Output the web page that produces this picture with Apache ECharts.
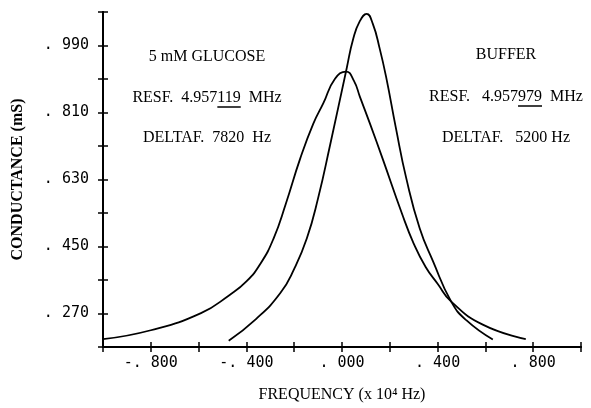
<!DOCTYPE html>
<html>
<head>
<meta charset="utf-8">
<script src="https://cdn.jsdelivr.net/npm/echarts@6/dist/echarts.min.js"></script>
<style>html,body{margin:0;padding:0;background:#fff;}#c{width:591px;height:408px;}</style>
</head>
<body>
<div id="c"></div>
<script>
// Data (frequency x 10^4 Hz, conductance mS)
const glucoseX = [-1.0, -0.8, -0.59, -0.47, -0.40, -0.34, -0.286, -0.235, -0.175, -0.12, -0.078, -0.03, 0.017, 0.05, 0.075, 0.117, 0.171, 0.25, 0.30, 0.35, 0.40, 0.457, 0.589, 0.769];
const glucoseY = [0.201, 0.225, 0.271, 0.320, 0.356, 0.405, 0.472, 0.565, 0.686, 0.780, 0.835, 0.900, 0.920, 0.895, 0.852, 0.780, 0.684, 0.540, 0.458, 0.395, 0.350, 0.302, 0.240, 0.201];
const bufferX = [-0.474, -0.36, -0.258, -0.20, -0.147, -0.10, -0.05, 0.019, 0.047, 0.075, 0.103, 0.129, 0.158, 0.186, 0.225, 0.269, 0.325, 0.381, 0.457, 0.52, 0.631];
const bufferY = [0.197, 0.255, 0.325, 0.390, 0.472, 0.580, 0.722, 0.927, 1.008, 1.056, 1.075, 1.048, 0.981, 0.901, 0.770, 0.633, 0.499, 0.410, 0.302, 0.252, 0.200];
const yLabelValues = [0.27, 0.45, 0.63, 0.81, 0.99];
const xLabelValues = [-0.8, -0.4, 0.0, 0.4, 0.8];
const yTitle = 'CONDUCTANCE (mS)';
const xTitle = 'FREQUENCY (x 10\u2074 Hz)';
const glucoseLines = ['5 mM GLUCOSE', ['RESF.  4.957', '119', '  MHz'], 'DELTAF.  7820  Hz'];
const bufferLines = ['BUFFER', ['RESF.   4.957', '979', '  MHz'], 'DELTAF.   5200 Hz'];

function fmt(v) {
  const s = Math.abs(v).toFixed(3).replace(/^0/, '');
  return (v < -1e-9 ? '-' : '') + s.replace('.', '. ');
}
function inList(v, list) { return list.some(l => Math.abs(l - v) < 1e-6); }

const serif = '"Liberation Serif", "DejaVu Serif", serif';
const mono = '"DejaVu Sans Mono", monospace';
const annFont = '16px ' + serif;
const mctx = document.createElement('canvas').getContext('2d');
mctx.font = annFont;
const tw = s => mctx.measureText(s).width;

function annotation(lines, cx, ys) {
  const out = [];
  lines.forEach((ln, i) => {
    const text = Array.isArray(ln) ? ln.join('') : ln;
    out.push({type: 'text', x: cx, y: ys[i], style: {text: text, font: annFont, fill: '#000', align: 'center', verticalAlign: 'middle'}});
    if (Array.isArray(ln)) {
      const left = cx - tw(text) / 2;
      const x1 = left + tw(ln[0]);
      const x2 = x1 + tw(ln[1]);
      out.push({type: 'line', shape: {x1: x1, y1: ys[i] + 9, x2: x2, y2: ys[i] + 9}, style: {stroke: '#000', lineWidth: 1.5}});
    }
  });
  return out;
}

const chart = echarts.init(document.getElementById('c'), null, {renderer: 'canvas'});
const axisLine = {show: true, onZero: false, lineStyle: {color: '#000', width: 2}};
const tickStyle = {color: '#000', width: 1.5};
chart.setOption({
  animation: false,
  backgroundColor: '#fff',
  grid: {left: 103, right: 10, top: 12, bottom: 59},
  xAxis: [
    {
      type: 'value', min: -1.0, max: 1.0, interval: 0.2, position: 'bottom',
      axisLine: axisLine, splitLine: {show: false},
      axisTick: {show: true, length: 5, lineStyle: tickStyle},
      axisLabel: {margin: 9, fontFamily: mono, fontSize: 15, color: '#000',
        formatter: v => inList(v, xLabelValues) ? fmt(v) : ''},
      name: xTitle, nameLocation: 'middle', nameGap: 40,
      nameTextStyle: {fontFamily: serif, fontSize: 16, color: '#000'}
    },
    {
      type: 'value', min: -1.0, max: 1.0, interval: 0.2, position: 'bottom',
      axisLine: axisLine, splitLine: {show: false},
      axisTick: {show: true, inside: true, length: 5, lineStyle: tickStyle},
      axisLabel: {show: false}
    }
  ],
  yAxis: [
    {
      type: 'value', min: 0.18, max: 1.08, interval: 0.09, position: 'left',
      axisLine: axisLine, splitLine: {show: false},
      axisTick: {show: true, length: 5, lineStyle: tickStyle},
      axisLabel: {margin: 14, fontFamily: mono, fontSize: 15, color: '#000',
        formatter: v => inList(v, yLabelValues) ? fmt(v) : ''},
      name: yTitle, nameLocation: 'middle', nameGap: 77, nameRotate: 90,
      nameTextStyle: {fontFamily: serif, fontSize: 16, fontWeight: 'bold', color: '#000'}
    },
    {
      type: 'value', min: 0.18, max: 1.08, interval: 0.09, position: 'left',
      axisLine: axisLine, splitLine: {show: false},
      axisTick: {show: true, inside: true, length: 5, lineStyle: tickStyle},
      axisLabel: {show: false}
    }
  ],
  series: [
    {type: 'line', name: '5 mM GLUCOSE', smooth: 0.5, showSymbol: false, symbol: 'none',
     data: glucoseX.map((x, i) => [x, glucoseY[i]]),
     lineStyle: {color: '#000', width: 1.8}},
    {type: 'line', name: 'BUFFER', smooth: 0.5, showSymbol: false, symbol: 'none',
     data: bufferX.map((x, i) => [x, bufferY[i]]),
     lineStyle: {color: '#000', width: 1.8}}
  ],
  graphic: annotation(glucoseLines, 207, [57, 98, 138]).concat(annotation(bufferLines, 506, [55, 97, 138]))
});
</script>
</body>
</html>
